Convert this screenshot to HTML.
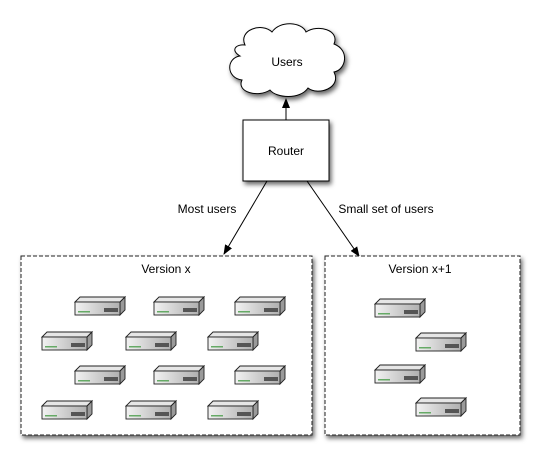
<!DOCTYPE html>
<html><head><style>body{margin:0;background:#fff}svg{display:block}</style></head><body>
<svg width="535" height="449" viewBox="0 0 535 449" xmlns="http://www.w3.org/2000/svg" font-family="Liberation Sans, sans-serif" font-size="12">
<defs>
<filter id="sh" x="-20%" y="-20%" width="150%" height="150%"><feDropShadow dx="2" dy="3" stdDeviation="2.5" flood-color="#000" flood-opacity="0.6"/></filter>
<linearGradient id="fg" x1="0" x2="1"><stop offset="0" stop-color="#f2f2f2"/><stop offset="0.6" stop-color="#c8c8c8"/><stop offset="1" stop-color="#b0b0b0"/></linearGradient>
<g id="srv">
<path d="M1 5 L6 0 L51 0 L46 5 Z" fill="#e6e6e6" stroke="#222" stroke-width="0.9"/>
<path d="M46 5 L51 0 L51 13 L46 18 Z" fill="#9a9a9a" stroke="#222" stroke-width="0.9"/>
<rect x="1" y="5" width="45" height="13" fill="url(#fg)" stroke="#222" stroke-width="0.9"/>
<rect x="30" y="11" width="14" height="4" fill="#555"/>
<rect x="4" y="14" width="12" height="1.5" fill="#6a6" />
</g>
<marker id="ar" markerWidth="10" markerHeight="10" refX="9" refY="5" orient="auto" markerUnits="userSpaceOnUse"><path d="M0 1 L10 5 L0 9 Z" fill="#000"/></marker>
</defs>
<path filter="url(#sh)" d="M245 45 C238 30 262 22 272 32 C280 20 302 22 306 32 C318 24 340 30 334 44 C350 50 346 70 334 72 C342 88 318 96 308 88 C300 100 276 98 270 90 C258 98 236 92 242 80 C226 78 226 58 240 56 C230 50 236 44 245 45 Z" fill="#fff" stroke="#000" stroke-width="1"/>
<text x="287" y="66" text-anchor="middle">Users</text>
<line x1="286" y1="120" x2="286" y2="99" stroke="#000" marker-end="url(#ar)"/>
<rect x="243" y="120" width="86" height="61" fill="#fff" stroke="#000" filter="url(#sh)"/>
<text x="286" y="155" text-anchor="middle">Router</text>
<line x1="267" y1="181" x2="224" y2="254" stroke="#000" marker-end="url(#ar)"/>
<line x1="307" y1="181" x2="359" y2="256" stroke="#000" marker-end="url(#ar)"/>
<text x="207" y="213" text-anchor="middle">Most users</text>
<text x="386" y="213" text-anchor="middle">Small set of users</text>
<rect x="21" y="256" width="291" height="179" fill="#fff" stroke="#222" stroke-dasharray="4,2" filter="url(#sh)"/>
<rect x="325" y="256" width="195" height="179" fill="#fff" stroke="#222" stroke-dasharray="4,2" filter="url(#sh)"/>
<text x="166" y="273" text-anchor="middle">Version x</text>
<text x="420" y="273" text-anchor="middle">Version x+1</text>
<use href="#srv" x="74" y="297"/><use href="#srv" x="153" y="297"/><use href="#srv" x="234" y="297"/>
<use href="#srv" x="41" y="332"/><use href="#srv" x="125" y="332"/><use href="#srv" x="207" y="332"/>
<use href="#srv" x="74" y="366"/><use href="#srv" x="153" y="366"/><use href="#srv" x="234" y="366"/>
<use href="#srv" x="41" y="401"/><use href="#srv" x="125" y="401"/><use href="#srv" x="207" y="401"/>
<use href="#srv" x="374" y="299"/><use href="#srv" x="415" y="333"/><use href="#srv" x="374" y="365"/><use href="#srv" x="415" y="398"/>
</svg>
</body></html>
